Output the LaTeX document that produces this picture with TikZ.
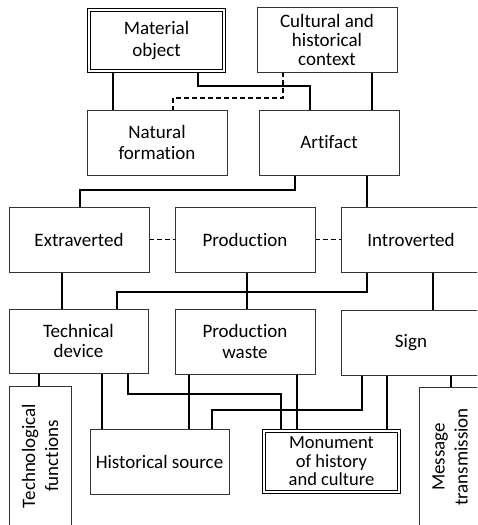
\documentclass[tikz,border=0pt]{standalone}
\usepackage{fontspec}
\setmainfont[Ligatures=NoCommon]{Carlito}
\usetikzlibrary{backgrounds}
\tikzset{
    box/.style={draw=black!80, line width=0.8pt, fill=white, align=center,
        inner sep=0pt, minimum width=140pt, minimum height=65pt,
        font=\fontsize{19}{20.5}\selectfont},
    double box/.style={box, draw=black, double, double distance=2.2pt,
        line width=1pt, minimum width=135pt, minimum height=61pt},
    link/.style={draw, line width=1.2pt},
    dash link/.style={link, dash pattern=on 5pt off 3pt}
}

\begin{document}
\begin{tikzpicture}[x=1pt, y=-1pt]
        \useasboundingbox (0,0) rectangle (477,525);
        \clip (0,0) rectangle (477,525);

        % first two rows
        \node [double box, font=\fontsize{19}{22}\selectfont] (mat) at (156.5,40.5) {Material\\object};
        \node [box, font=\fontsize{19}{19}\selectfont] (ctx) at (327,39.5) {Cultural and\\historical\\context};
        \node [box] (nat) at (157,142.5) {Natural\\formation};
        \node [box] (art) at (329,142.5) {Artifact};

        % middle rows
        \node [box] (ext) at (79,239.5) {Extraverted};
        \node [box] (prod) at (245,239.5) {Production};
        \node [box] (intro) at (411,239.5) {Introverted};
        \node [box, minimum width=139pt, minimum height=64pt] (tech) at (78.5,341) {Technical\\device};
        \node [box] (waste) at (245,341.5) {Production\\waste};
        \node [box] (sign) at (411,342.5) {Sign};

        % bottom row
        \node [box, rotate=90, minimum height=62pt, font=\fontsize{19}{23}\selectfont] (tfun) at (40,456) {Technological\\functions};
        \node [box, minimum width=139pt] (hist) at (159.5,461.5) {Historical source};
        \node [double box, font=\fontsize{18.5}{18.5}\selectfont] (mon) at (331.5,461.5) {Monument\\of history\\and culture};
        \node [box, rotate=90, minimum height=62pt, font=\fontsize{19}{23}\selectfont] (msg) at (450,457) {Message\\transmission};

        \begin{scope}[on background layer]
            \draw [link] (113,0 |- mat.south) -- (113,0 |- nat.north);
            \draw [link] (198,0 |- mat.south) |- (310,86) -- (310,0 |- art.north);
            \draw [dash link] (283,0 |- ctx.south) |- (173,98) -- (173,0 |- nat.north);
            \draw [link] (372,0 |- ctx.south) -- (372,0 |- art.north);

            \draw [link] (295,0 |- art.south) |- (80,190) -- (80,0 |- ext.north);
            \draw [link] (367,0 |- art.south) -- (367,0 |- intro.north);
            \draw [dash link] (ext.east) -- (prod.west);
            \draw [dash link] (prod.east) -- (intro.west);

            \draw [link] (62,0 |- ext.south) -- (62,0 |- tech.north);
            \draw [link] (247,0 |- prod.south) -- (247,0 |- waste.north);
            \draw [link] (367,0 |- intro.south) |- (117,292) -- (117,0 |- tech.north);
            \draw [link] (433,0 |- intro.south) -- (433,0 |- sign.north);

            \draw [link] (39,0 |- tech.south) -- (39,0 |- tfun.east);
            \draw [link] (102,0 |- tech.south) -- (102,0 |- hist.north);
            \draw [link] (128,0 |- tech.south) |- (281,394) -- (281,0 |- mon.north);
            \draw [link] (189,0 |- waste.south) -- (189,0 |- hist.north);
            \draw [link] (297,0 |- waste.south) -- (297,0 |- mon.north);
            \draw [link] (362,0 |- sign.south) |- (212,410) -- (212,0 |- hist.north);
            \draw [link] (387,0 |- sign.south) -- (387,0 |- mon.north);
            \draw [link] (451,0 |- sign.south) -- (451,0 |- msg.east);
        \end{scope}
    \end{tikzpicture}
\end{document}
